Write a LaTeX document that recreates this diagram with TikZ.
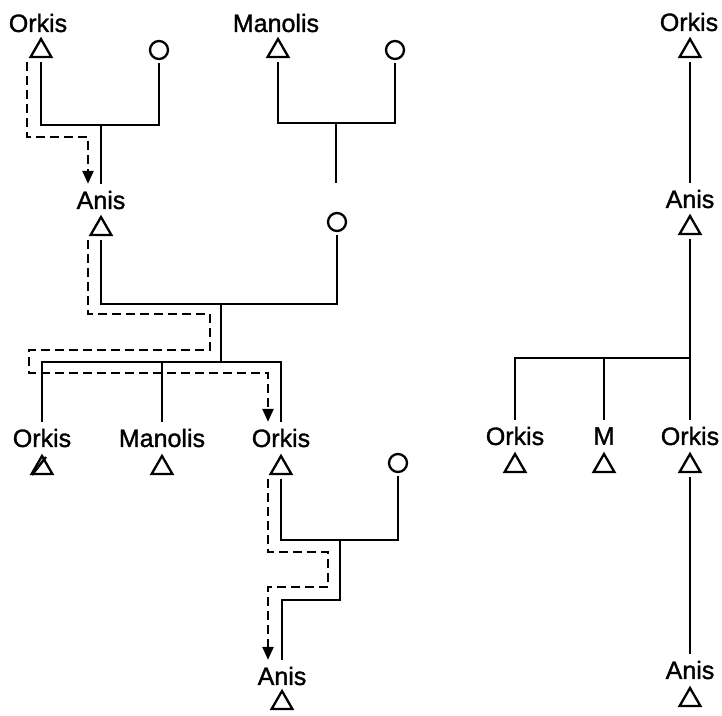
\documentclass[tikz,border=0pt]{standalone}
\usepackage{fontspec}
\setmainfont{Liberation Sans}
\newfontfamily\pfont{Liberation Sans}[FakeBold=1.3]
\usetikzlibrary{shapes.geometric,arrows.meta}

\tikzset{
  male/.style={regular polygon, regular polygon sides=3, draw, line width=2.3pt,
    minimum size=24pt, inner sep=0pt, outer sep=5pt},
  female/.style={circle, draw, line width=2.3pt, minimum size=18pt, inner sep=0pt, outer sep=4pt},
  pname/.style={font=\fontsize{25}{30}\pfont, inner sep=0pt, outer sep=7pt},
  kin/.style={line width=2.4pt},
  descent/.style={line width=2.4pt, dash pattern=on 9pt off 5pt, -{Triangle[width=11pt,length=13pt]}},
}

\begin{document}
\begin{tikzpicture}[x=1pt,y=-1pt]
  \useasboundingbox (0,0) rectangle (722,715);

  % first generation
  \node[pname] (orkisAn) at (38,23) {Orkis};
  \node[male] (orkisA) at (41,51) {};
  \node[female] (wifeA) at (159,50) {};
  \node[pname] (manolisAn) at (276,23) {Manolis};
  \node[male] (manolisA) at (278,51) {};
  \node[female] (wifeB) at (395,50) {};

  % second generation
  \node[pname] (anisAn) at (101,200) {Anis};
  \node[male] (anisA) at (101,229) {};
  \node[female] (wifeC) at (337,222) {};

  % third generation
  \node[pname] (orkisBn) at (42,438) {Orkis};
  \node[male] (orkisB) at (42,468) {};
  \node[pname] (manolisBn) at (162,438) {Manolis};
  \node[male] (manolisB) at (162,468) {};
  \node[pname] (orkisCn) at (281,438) {Orkis};
  \node[male] (orkisC) at (281,468) {};
  \node[female] (wifeD) at (398,463) {};

  % fourth generation
  \node[pname] (anisBn) at (282,676) {Anis};
  \node[male] (anisB) at (282,703) {};

  % right column
  \node[pname] (orkisRn) at (689,22) {Orkis};
  \node[male] (orkisR) at (690,51) {};
  \node[pname] (anisRn) at (690,199) {Anis};
  \node[male] (anisR) at (690,228) {};
  \node[pname] (orkisR1n) at (515,436) {Orkis};
  \node[male] (orkisR1) at (515,466) {};
  \node[pname] (mRn) at (604,436) {M};
  \node[male] (mR) at (604,466) {};
  \node[pname] (orkisR2n) at (690,436) {Orkis};
  \node[male] (orkisR2) at (690,466) {};
  \node[pname] (anisR2n) at (690,670) {Anis};
  \node[male] (anisR2) at (690,700) {};

  \coordinate (barA) at (101,125);
  \coordinate (barB) at (336,123);
  \coordinate (endB) at (336,183);
  \coordinate (barC) at (221,304);
  \coordinate (sibC) at (221,362);
  \coordinate (barD) at (340,540);
  \coordinate (barR) at (604,358);

  % lines of kinship
  \draw[kin] (orkisA) |- (barA) -| (wifeA);
  \draw[kin] (barA) -- (anisAn);
  \draw[kin] (manolisA) |- (barB) -| (wifeB);
  \draw[kin] (barB) -- (endB);
  \draw[kin] (anisA) |- (barC) -| (wifeC);
  \draw[kin] (barC) -- (sibC);
  \draw[kin] (orkisBn) |- (sibC) -| (orkisCn);
  \draw[kin] (manolisBn) -- (manolisBn |- sibC);
  \draw[kin] (orkisC) |- (barD) -| (wifeD);
  \draw[kin] (barD) -- ++(0,60) -| (anisBn);
  % the dead one
  \draw[kin] ([shift={(-10,7)}]orkisB.center) -- ([shift={(4,-11)}]orkisB.center);

  \draw[kin] (orkisR) -- (anisRn);
  \draw[kin] (anisR) -- (orkisR2n);
  \draw[kin] (orkisR1n) |- (barR) -| (orkisR2n);
  \draw[kin] (mRn) -- (mRn |- barR);
  \draw[kin] (orkisR2) -- (anisR2n);

  % passing of the name
  \draw[descent] ([xshift=-14pt]orkisA.south) |- (88,137) -- ([xshift=-13pt]anisAn.north);
  \draw[descent] ([xshift=-13pt]anisA.south) |- (210,314) |- (29,350) |- (268,373)
    -- ([xshift=-13pt]orkisCn.north);
  \draw[descent] ([xshift=-13pt]orkisC.south) |- (328,552) |- (268,587)
    -- ([xshift=-14pt]anisBn.north);
\end{tikzpicture}
\end{document}
